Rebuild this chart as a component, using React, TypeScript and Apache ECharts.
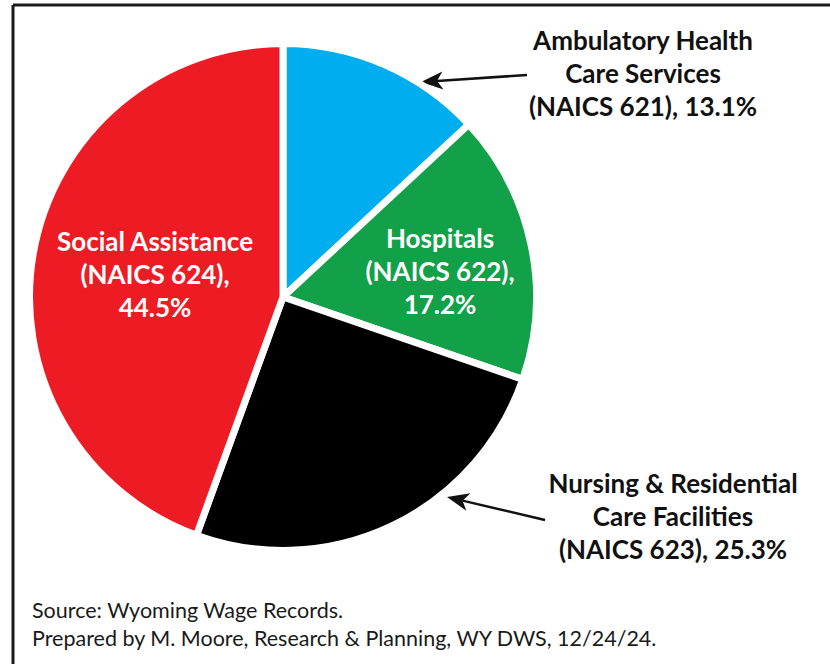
import React, { useEffect, useRef } from "react";
import * as echarts from "echarts";

const categories = [
  "Ambulatory Health\nCare Services\n(NAICS 621), 13.1%",
  "Hospitals\n(NAICS 622),\n17.2%",
  "Nursing & Residential\nCare Facilities\n(NAICS 623), 25.3%",
  "Social Assistance\n(NAICS 624),\n44.5%",
];
const shares = [13.1, 17.2, 25.3, 44.5];
const colors = ["#00AEEF", "#12A048", "#000000", "#ED1C24"];
const labelColors = ["#111111", "#FFFFFF", "#111111", "#FFFFFF"];
const labelPos = [
  [643, 73],
  [440, 271],
  [673, 516],
  [155, 274],
];
const sourceLines = [
  "Source: Wyoming Wage Records.",
  "Prepared by M. Moore, Research & Planning, WY DWS, 12/24/24.",
];

function arrow(tail: number[], tip: number[]) {
  const dx = tip[0] - tail[0];
  const dy = tip[1] - tail[1];
  const len = Math.sqrt(dx * dx + dy * dy);
  const ux = dx / len;
  const uy = dy / len;
  const px = -uy;
  const py = ux;
  const L = 22;
  const W = 9;
  const back = 6;
  const bx = tip[0] - ux * L;
  const by = tip[1] - uy * L;
  const nx = tip[0] - ux * (L - back);
  const ny = tip[1] - uy * (L - back);
  return [
    {
      type: "line",
      shape: { x1: tail[0], y1: tail[1], x2: nx, y2: ny },
      style: { stroke: "#111", lineWidth: 2.5 },
    },
    {
      type: "polygon",
      shape: {
        points: [
          [tip[0], tip[1]],
          [bx + px * W, by + py * W],
          [nx, ny],
          [bx - px * W, by - py * W],
        ],
      },
      style: { fill: "#111" },
    },
  ];
}

export default function App() {
  const ref = useRef<HTMLDivElement>(null);
  useEffect(() => {
    document.body.style.margin = "0";
    if (!ref.current) return;
    const chart = echarts.init(ref.current, undefined, { renderer: "svg" });
    const font = "Lato, 'Open Sans', sans-serif";
    chart.setOption({
      animation: false,
      backgroundColor: "#FFFFFF",
      series: [
        {
          type: "pie",
          center: [283, 297],
          radius: [0, 253.5],
          startAngle: 90,
          clockwise: true,
          silent: true,
          itemStyle: { borderColor: "#FFFFFF", borderWidth: 7 },
          labelLine: { show: false },
          label: {
            show: true,
            position: "inside",
            formatter: (p: any) => categories[p.dataIndex],
            fontFamily: font,
            fontWeight: "bold",
            fontSize: 26,
            lineHeight: 33,
            align: "center",
          },
          labelLayout: (p: any) => ({
            x: labelPos[p.dataIndex][0],
            y: labelPos[p.dataIndex][1],
            align: "center",
            verticalAlign: "middle",
          }),
          data: shares.map((v, i) => ({
            name: categories[i],
            value: v,
            itemStyle: { color: colors[i] },
            label: { color: labelColors[i] },
          })),
        },
      ],
      graphic: [
        {
          type: "line",
          shape: { x1: 13, y1: 5, x2: 830, y2: 5 },
          style: { stroke: "#1a1a1a", lineWidth: 3 },
        },
        {
          type: "line",
          shape: { x1: 13, y1: 5, x2: 13, y2: 664 },
          style: { stroke: "#1a1a1a", lineWidth: 3 },
        },
        ...arrow([527, 75], [421, 82]),
        ...arrow([545, 520], [447, 497]),
        ...sourceLines.map((t, i) => ({
          type: "text",
          x: 32,
          y: 610 + i * 28,
          style: {
            text: t,
            fill: "#1a1a1a",
            font: `21.5px ${font}`,
            verticalAlign: "middle",
          },
        })),
      ],
    });
    return () => chart.dispose();
  }, []);
  return <div ref={ref} style={{ width: 830, height: 664 }} />;
}
